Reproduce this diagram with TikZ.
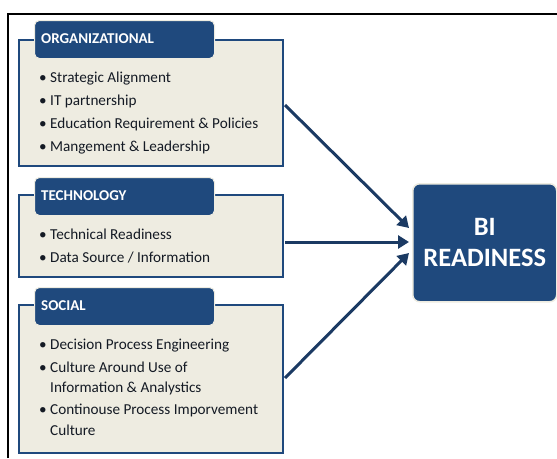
\documentclass[tikz,border=0pt]{standalone}
\usepackage{fontspec}
\setmainfont{Carlito}
\usetikzlibrary{arrows.meta}
\definecolor{hdrblue}{HTML}{1F497D}
\definecolor{bodyfill}{HTML}{EEECE1}
\definecolor{arrowblue}{HTML}{1B3A63}
\definecolor{txt}{HTML}{141A24}
\tikzset{
  bodybox/.style={draw=hdrblue, line width=2.5pt, fill=bodyfill},
  hdrtab/.style={fill=hdrblue, draw=bodyfill, line width=1pt, rounded corners=5pt, minimum width=180pt, minimum height=38pt, anchor=north west},
  hdrtext/.style={text=white, font=\fontsize{15}{17}\selectfont\bfseries, anchor=west, inner sep=0pt},
  item/.style={text=txt, font=\fontsize{15.2}{20}\selectfont, anchor=base west, inner sep=0pt},
  biarrow/.style={draw=arrowblue, line width=3pt, -{Triangle[length=11pt,width=13pt]}},
}
\newcommand{\bul}{\makebox[11pt][l]{\textbullet}}
\newcommand{\nobul}{\hspace*{11pt}}
\begin{document}
\begin{tikzpicture}[x=1pt,y=-1pt]
\useasboundingbox (0,0) rectangle (557,458);
\fill[white] (0,0) rectangle (557,458);
\draw[black, line width=2pt] (8,458) -- (8,14) -- (557,14);

% Organizational
\draw[bodybox] (19,40) rectangle (283,166);
\node[hdrtab] (orgh) at (34,20) {};
\node[hdrtext] (orgt) at (41,39) {ORGANIZATIONAL};
\node[item] (o1) at (39,82) {\bul Strategic Alignment};
\node[item] (o2) at (39,105) {\bul IT partnership};
\node[item] (o3) at (39,128) {\bul Education Requirement \& Policies};
\node[item] (o4) at (39,151) {\bul Mangement \& Leadership};
\coordinate (orgr) at (285,105);

% Technology
\draw[bodybox] (19,195) rectangle (283,277);
\node[hdrtab] (techh) at (34,177) {};
\node[hdrtext] (techt) at (41,196) {TECHNOLOGY};
\node[item] (t1n) at (39,239) {\bul Technical Readiness};
\node[item] (t2n) at (39,262) {\bul Data Source / Information};
\coordinate (techr) at (285,242);

% Social
\draw[bodybox] (19,305) rectangle (283,453);
\node[hdrtab] (soch) at (34,287) {};
\node[hdrtext] (soct) at (41,306) {SOCIAL};
\node[item] (s1) at (39,349) {\bul Decision Process Engineering};
\node[item] (s2) at (39,372) {\bul Culture Around Use of};
\node[item] (s3) at (39,392) {\nobul Information \& Analystics};
\node[item] (s4) at (39,414) {\bul Continouse Process Imporvement};
\node[item] (s5) at (39,435) {\nobul Culture};
\coordinate (socr) at (285,378);

% BI Readiness
\node[fill=hdrblue, draw=bodyfill, line width=1.5pt, rounded corners=7pt,
      minimum width=144pt, minimum height=118pt, anchor=north west,
      text=white, font=\fontsize{26.5}{31}\selectfont\bfseries, align=center] (bi) at (412,183) {BI\\READINESS};

\coordinate (a1) at (409,228);
\coordinate (a2) at (409,242);
\coordinate (a3) at (409,253);
\draw[biarrow] (orgr) -- (a1);
\draw[biarrow] (techr) -- (a2);
\draw[biarrow] (socr) -- (a3);
\end{tikzpicture}
\end{document}
